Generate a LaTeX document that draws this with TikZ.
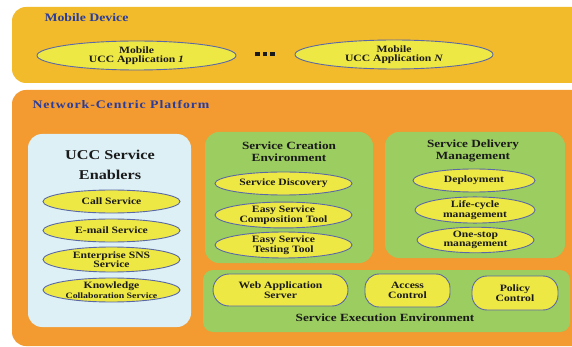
\documentclass[tikz,border=0pt]{standalone}
\usepackage{fontspec}
\setmainfont{Liberation Serif}[FakeStretch=1.2]
\usetikzlibrary{shapes.geometric}
\definecolor{mobcol}{HTML}{F2BB2C}
\definecolor{orgcol}{HTML}{F39A30}
\definecolor{grncol}{HTML}{9CCD60}
\definecolor{bluebox}{HTML}{DCF0F5}
\definecolor{ellcol}{HTML}{EEE845}
\definecolor{ellline}{HTML}{5A68A8}
\definecolor{titcol}{HTML}{2A3C9C}
\definecolor{txtcol}{HTML}{1A1A1A}
\tikzset{
  ell/.style={ellipse, fill=ellcol, draw=ellline, line width=0.9pt, inner sep=0pt, align=center,
    font=\bfseries\fontsize{9.7}{9.5}\selectfont, text=txtcol},
  pill/.style={rounded corners=14pt, fill=ellcol, draw=ellline, line width=0.9pt, align=center,
    font=\bfseries\fontsize{9.7}{9.5}\selectfont, text=txtcol},
  maintitle/.style={font=\bfseries\fontsize{11.5}{12}\selectfont, text=titcol, anchor=west},
  boxtitle/.style={font=\bfseries\fontsize{11}{11.5}\selectfont, text=txtcol, align=center}
}
\begin{document}
\begin{tikzpicture}[x=1pt,y=-1pt]
\useasboundingbox (0,0) rectangle (572,347);
% Mobile device
\fill[mobcol, rounded corners=14pt] (12,7) rectangle (590,83);
\node[maintitle] (mobt) at (41,18) {Mobile Device};
\node[ell, minimum width=199pt, minimum height=29pt] (app1) at (136.5,55.5) {Mobile\\UCC Application \textit{1}};
\node[ell, minimum width=198pt, minimum height=29pt] (appn) at (394,54.5) {Mobile\\UCC Application \textit{N}};
\node[inner sep=0pt] (dots) at (265,54) {\color{txtcol}\rule{4.5pt}{4.5pt}\hspace{3pt}\rule{4.5pt}{4.5pt}\hspace{3pt}\rule{4.5pt}{4.5pt}};
% Network-centric platform
\fill[orgcol, rounded corners=14pt] (12,90) rectangle (590,346);
\node[maintitle] (nett) at (29,105) {\addfontfeature{LetterSpace=8}Network-Centric Platform};
% UCC service enablers
\fill[bluebox, rounded corners=14pt] (28,134) rectangle (191,327);
\node[boxtitle, font=\bfseries\fontsize{13.5}{20}\selectfont] (uccT) at (110,165) {UCC Service\\Enablers};
\node[ell, minimum width=137pt, minimum height=23pt] (call) at (111.5,201.5) {Call Service};
\node[ell, minimum width=137pt, minimum height=23pt] (mail) at (111.5,230.5) {E-mail Service};
\node[ell, minimum width=137pt, minimum height=25pt] (sns) at (111.5,259.5) {Enterprise SNS\\Service};
\node[ell, minimum width=137pt, minimum height=24pt] (know) at (111.5,290) {Knowledge\\{\fontsize{8.2}{8.5}\selectfont Collaboration Service}};
% Service creation environment
\fill[grncol, rounded corners=14pt] (205,132) rectangle (373,263);
\node[boxtitle] (sceT) at (289,151.5) {Service Creation\\Environment};
\node[ell, minimum width=137pt, minimum height=23pt] (disc) at (283.5,183.5) {Service Discovery};
\node[ell, minimum width=137pt, minimum height=24pt] (comp) at (283.5,215) {Easy Service\\Composition Tool};
\node[ell, minimum width=137pt, minimum height=24pt] (test) at (283.5,245) {Easy Service\\Testing Tool};
% Service delivery management
\fill[grncol, rounded corners=14pt] (385,132) rectangle (565,258);
\node[boxtitle] (sdmT) at (473,151) {Service Delivery\\Management};
\node[ell, minimum width=122pt, minimum height=23pt] (depl) at (474,180.5) {Deployment};
\node[ell, minimum width=120pt, minimum height=24pt] (life) at (475,210) {Life-cycle\\management};
\node[ell, minimum width=117pt, minimum height=24pt] (one) at (475.5,240) {One-stop\\management};
% Service execution environment
\fill[grncol, rounded corners=10pt] (203,270) rectangle (570,332);
\node[boxtitle] (seeT) at (385,318) {Service Execution Environment};
\node[pill, minimum width=135pt, minimum height=32pt, inner sep=0pt, rounded corners=16pt] (web) at (280.5,290) {Web Application\\Server};
\node[pill, minimum width=85pt, minimum height=33pt, inner sep=0pt, rounded corners=14pt] (acc) at (407.5,290.5) {Access\\Control};
\node[pill, minimum width=86pt, minimum height=34pt, inner sep=0pt, rounded corners=15pt] (pol) at (515,293) {Policy\\Control};
\end{tikzpicture}
\end{document}
